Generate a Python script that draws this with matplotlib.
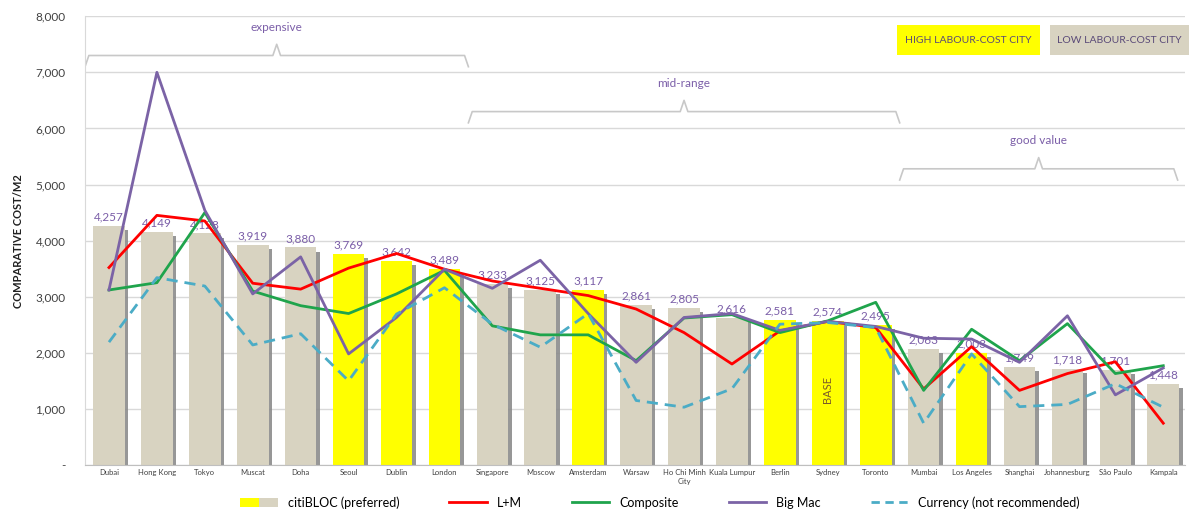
import matplotlib
matplotlib.use("Agg")
import matplotlib.pyplot as plt
import matplotlib.patheffects as pe
from matplotlib.patches import Patch, Rectangle
from matplotlib.lines import Line2D
from matplotlib.legend_handler import HandlerTuple
from matplotlib.ticker import FuncFormatter

plt.rcParams['font.family'] = ['Lato', 'DejaVu Sans']

# data
cities = ["Dubai", "Hong Kong", "Tokyo", "Muscat", "Doha", "Seoul", "Dublin", "London",
          "Singapore", "Moscow", "Amsterdam", "Warsaw", "Ho Chi Minh\nCity", "Kuala Lumpur",
          "Berlin", "Sydney", "Toronto", "Mumbai", "Los Angeles", "Shanghai",
          "Johannesburg", "São Paulo", "Kampala"]
citibloc = [4257, 4149, 4128, 3919, 3880, 3769, 3642, 3489, 3233, 3125, 3117, 2861, 2805,
            2616, 2581, 2574, 2495, 2063, 2003, 1749, 1718, 1701, 1448]
high_labour = [False, False, False, False, False, True, True, True, False, False, True, False,
               False, False, True, True, True, False, True, False, False, False, False]
lm = [3520, 4450, 4350, 3240, 3135, 3510, 3770, 3490, 3280, 3150, 3020, 2780, 2360,
      1800, 2390, 2560, 2450, 1356, 2110, 1330, 1630, 1840, 745]
composite = [3120, 3250, 4500, 3100, 2840, 2700, 3050, 3470, 2480, 2320, 2320, 1860, 2620,
             2680, 2360, 2570, 2900, 1330, 2420, 1860, 2520, 1630, 1770]
bigmac = [3120, 7000, 4540, 3050, 3710, 1980, 2630, 3490, 3150, 3650, 2700, 1830, 2630,
          2700, 2400, 2560, 2470, 2260, 2245, 1830, 2660, 1250, 1730]
currency = [2190, 3340, 3190, 2140, 2340, 1500, 2690, 3160, 2510, 2100, 2700, 1150, 1030,
            1360, 2510, 2540, 2450, 745, 1980, 1040, 1080, 1450, 1030]

# price bands: (label, start, end, bracket height)
bands = [("expensive", -0.5, 7.5, 7300),
         ("mid-range", 7.5, 16.5, 6300),
         ("good value", 16.5, 22.3, 5280)]

YELLOW = "#FFFF00"
BEIGE = "#D8D3C1"
RED = "#FF0000"
GREEN = "#1FA44C"
PURPLE = "#7B63A6"
CYAN = "#4BACC6"
LABEL = "#7B5EA8"

fig = plt.figure(figsize=(11.89, 5.17), dpi=100)
ax = fig.add_axes([0.0715, 0.1006, 0.925, 0.868])

x = list(range(len(cities)))
colors = [YELLOW if h else BEIGE for h in high_labour]
bars = ax.bar(x, citibloc, width=0.66, color=colors, zorder=2)
for b in bars:
    b.set_path_effects([pe.SimplePatchShadow(offset=(2.5, -3), shadow_rgbFace="#8c8c8c", alpha=0.9),
                        pe.Normal()])
for xi, v in zip(x, citibloc):
    ax.text(xi, v + 60, f"{v:,}", ha="center", va="bottom", fontsize=8.5, color=LABEL, zorder=3)

ax.plot(x, lm, color=RED, lw=2, zorder=4)
ax.plot(x, composite, color=GREEN, lw=2, zorder=4)
ax.plot(x, bigmac, color=PURPLE, lw=2, zorder=4)
ax.plot(x, currency, color=CYAN, lw=2, ls=(0, (4, 2.5)), zorder=4)

ax.text(15, 1350, "BASE", rotation=90, ha="center", va="center", fontsize=8, color="#7a5a2a", zorder=3)

# curly brackets for the price bands
for label, x0, x1, yb in bands:
    xm = (x0 + x1) / 2
    e = 0.08
    h = 200
    bx = [x0, x0 + e, xm - e, xm, xm + e, x1 - e, x1]
    by = [yb - h, yb, yb, yb + h, yb, yb, yb - h]
    ax.plot(bx, by, color="#c8c8c8", lw=1.2, zorder=1)
    ax.text(xm, yb + 400, label, ha="center", va="bottom", fontsize=8.5, color=LABEL)

# labour cost boxes
for bx0, bw, fc, txt in [(0.7544, 0.1203, YELLOW, "HIGH LABOUR-COST CITY"),
                         (0.8831, 0.1169, BEIGE, "LOW LABOUR-COST CITY")]:
    fig.patches.append(Rectangle((bx0, 0.8936), bw, 0.058, transform=fig.transFigure,
                                 fc=fc, ec="none", zorder=5))
    fig.text(bx0 + bw / 2, 0.8936 + 0.029, txt, ha="center", va="center",
             fontsize=7.5, color="#5a4a78", zorder=6)

ax.set_xlim(-0.5, 22.45)
ax.set_ylim(0, 8000)
ax.set_yticks(range(0, 8001, 1000))
ax.yaxis.set_major_formatter(FuncFormatter(lambda v, p: "-" if v == 0 else f"{int(v):,}"))
ax.set_xticks(x)
ax.set_xticklabels(cities, fontsize=5.5, color="#404040", linespacing=1.3)
ax.tick_params(axis="y", labelsize=8.5, labelcolor="#404040", length=0, pad=14)
ax.tick_params(axis="x", length=0, pad=3)
ax.grid(axis="y", color="#d9d9d9", lw=1, zorder=0)
ax.set_axisbelow(True)
for s in ["top", "right"]:
    ax.spines[s].set_visible(False)
ax.spines["left"].set_color("#d9d9d9")
ax.spines["bottom"].set_color("#bfbfbf")
ax.set_ylabel("COMPARATIVE COST/M2", fontsize=8, fontweight="bold", color="#202020", labelpad=8)

handles = [(Patch(fc=YELLOW), Patch(fc=BEIGE)),
           Line2D([], [], color=RED, lw=2),
           Line2D([], [], color=GREEN, lw=2),
           Line2D([], [], color=PURPLE, lw=2),
           Line2D([], [], color=CYAN, lw=2, ls=(0, (3, 2)))]
labels = ["citiBLOC (preferred)", "L+M", "Composite", "Big Mac", "Currency (not recommended)"]
fig.legend(handles, labels, loc="center", bbox_to_anchor=(0.555, 0.028), ncol=5, frameon=False,
           fontsize=9, handler_map={tuple: HandlerTuple(ndivide=None, pad=0)},
           handlelength=3.0, columnspacing=4.0, handletextpad=0.8)

fig.savefig("out.png", dpi=100)
